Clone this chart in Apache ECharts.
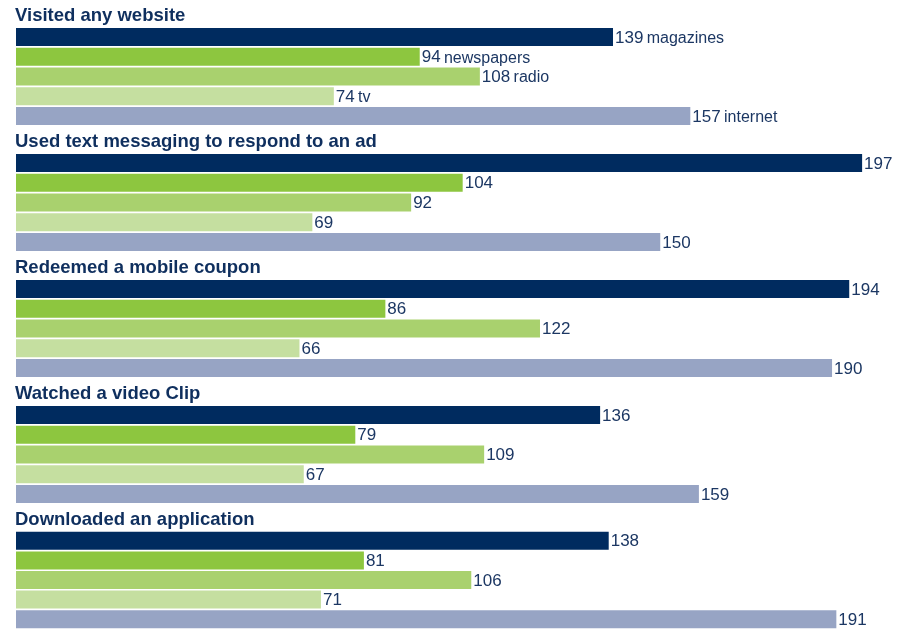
<!DOCTYPE html>
<html>
<head>
<meta charset="utf-8">
<script src="https://cdn.jsdelivr.net/npm/echarts@6/dist/echarts.min.js"></script>
<style>
  html, body { margin: 0; padding: 0; background: #fff; }
  #chart { width: 907px; height: 629px; }
</style>
</head>
<body>
<div id="chart"></div>
<script>
// Media types, in bar order within each group
const media = ['magazines', 'newspapers', 'radio', 'tv', 'internet'];
const mediaColors = ['#002b5f', '#8dc63f', '#a9d16e', '#c5dfa0', '#97a4c4'];

// Activity groups
const activities = [
  'Visited any website',
  'Used text messaging to respond to an ad',
  'Redeemed a mobile coupon',
  'Watched a video Clip',
  'Downloaded an application'
];

// Index values per activity, ordered as in `media`
const visitedWebsite = [139, 94, 108, 74, 157];
const textMessaging  = [197, 104, 92, 69, 150];
const mobileCoupon   = [194, 86, 122, 66, 190];
const videoClip      = [136, 79, 109, 67, 159];
const downloadedApp  = [138, 81, 106, 71, 191];
const groupValues = [visitedWebsite, textMessaging, mobileCoupon, videoClip, downloadedApp];

const xMax = 200;
const groupPitch = 126;
const firstBarTop = 27;
const groupHeight = 99;
const textColor = '#1c3763';
const sans = '"Liberation Sans", Arial, sans-serif';

const grids = [], xAxes = [], yAxes = [], series = [], titles = [];
activities.forEach((name, i) => {
  const top = firstBarTop + i * groupPitch;
  grids.push({ left: 16, width: 859, top: top, height: groupHeight });
  xAxes.push({ type: 'value', gridIndex: i, min: 0, max: xMax, show: false });
  yAxes.push({ type: 'category', gridIndex: i, data: media, inverse: true, show: false });
  titles.push({
    text: name, left: 15, top: top - 21, padding: 0,
    textStyle: { fontFamily: sans, fontSize: 18.5, fontWeight: 'bold', color: '#0f2f5e' }
  });
  series.push({
    type: 'bar', xAxisIndex: i, yAxisIndex: i,
    barWidth: 18, barCategoryGap: 0,
    data: groupValues[i].map((v, k) => ({ value: v, itemStyle: { color: mediaColors[k] } })),
    label: {
      show: true, position: 'right', distance: 2, offset: [0, 1],
      formatter: p => i === 0 ? '{v|' + p.value + '} {n|' + media[p.dataIndex] + '}' : '{v|' + p.value + '}',
      rich: {
        v: { fontFamily: sans, fontSize: 17, color: textColor },
        n: { fontFamily: sans, fontSize: 16, color: textColor, padding: [1, 0, 0, 0] }
      }
    },
    animation: false
  });
});

const chart = echarts.init(document.getElementById('chart'), null, { renderer: 'canvas' });
chart.setOption({
  animation: false,
  title: titles,
  grid: grids,
  xAxis: xAxes,
  yAxis: yAxes,
  series: series
});
</script>
</body>
</html>
